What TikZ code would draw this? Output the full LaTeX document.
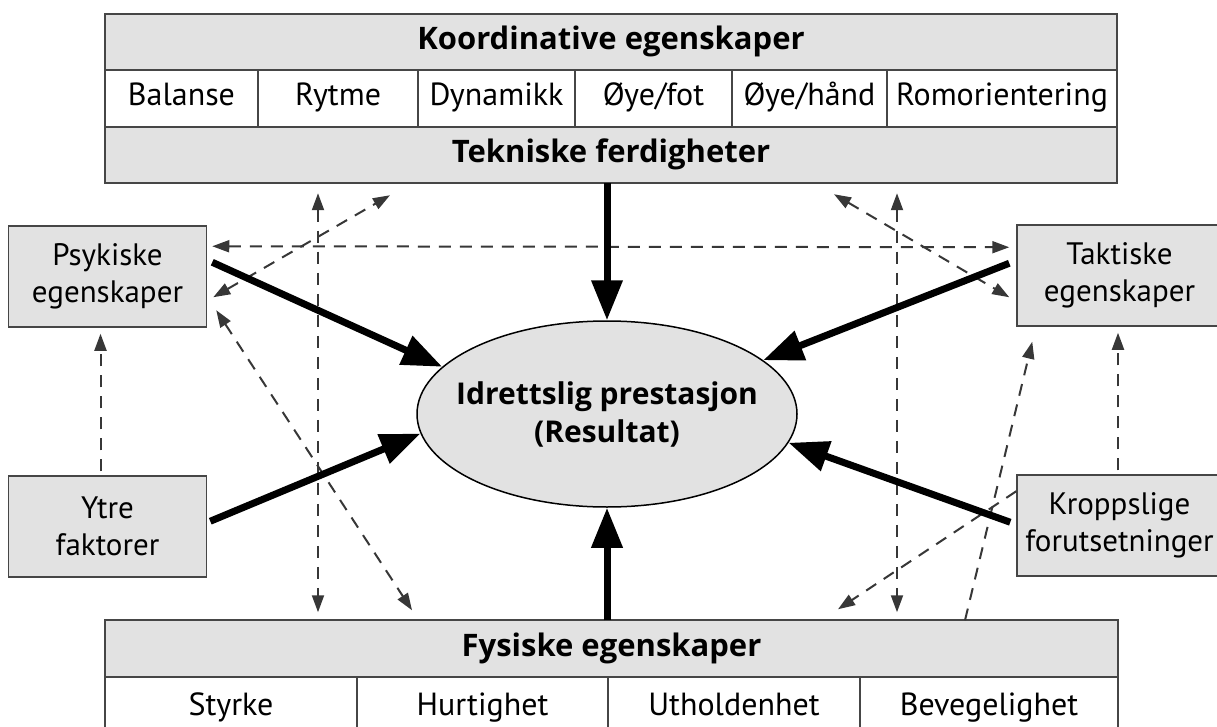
\documentclass[tikz,border=0pt]{standalone}
\usepackage{fontspec}
\setmainfont{PT Sans}
\newfontfamily\headfont{Open Sans}
\usepackage{tikz}
\usetikzlibrary{shapes,arrows.meta,positioning,calc}

\definecolor{boxfill}{RGB}{226,226,226}
\definecolor{boxline}{RGB}{70,70,70}
\definecolor{dashgray}{RGB}{55,55,55}

\tikzset{
  band/.style={draw=boxline, fill=boxfill, line width=2pt, inner sep=0pt, outer sep=0pt,
    minimum width=1012pt, minimum height=56.5pt, text height=23pt, text depth=7pt,
    font=\headfont\bfseries\fontsize{31}{34}\selectfont},
  cell/.style={draw=boxline, fill=white, line width=1.5pt, inner sep=0pt, outer sep=0pt,
    minimum height=56.5pt, text height=22pt, text depth=7pt,
    font=\fontsize{32}{34}\selectfont},
  sidebox/.style={draw=boxline, fill=boxfill, line width=1.5pt, inner sep=0pt,
    minimum width=198pt, minimum height=101pt, align=center,
    font=\fontsize{31}{37}\selectfont},
  thickarr/.style={line width=7pt, -{Triangle[length=40pt,width=30pt]}},
  dasharr/.style={draw=dashgray, line width=2pt, dash pattern=on 12pt off 9pt}
}

\begin{document}
\begin{tikzpicture}[x=1pt,y=-1pt,
    tip/.tip={Triangle[length=17pt,width=12pt]}]
  \useasboundingbox (0,0) rectangle (1217,727);

  \node[band] (koord) at (611,42) {Koordinative egenskaper};
  \node[cell, minimum width=153pt, anchor=north west] (bal) at (koord.south west) {Balanse};
  \node[cell, minimum width=160pt, right=0pt of bal] (ryt) {Rytme};
  \node[cell, minimum width=157pt, right=0pt of ryt] (dyn) {Dynamikk};
  \node[cell, minimum width=157pt, right=0pt of dyn] (fot) {Øye/fot};
  \node[cell, minimum width=155pt, right=0pt of fot] (hand) {Øye/hånd};
  \node[cell, minimum width=230pt, right=0pt of hand] (rom) {Romorientering};
  \node[band, anchor=north west] (tekn) at (bal.south west) {Tekniske ferdigheter};

  \node[band, minimum width=1013pt] (fys) at (611.5,648.5) {Fysiske egenskaper};
  \node[cell, minimum width=252pt, minimum height=62pt, anchor=north west] (sty) at (fys.south west) {Styrke};
  \node[cell, minimum width=251pt, minimum height=62pt, right=0pt of sty] (hur) {Hurtighet};
  \node[cell, minimum width=252pt, minimum height=62pt, right=0pt of hur] (uth) {Utholdenhet};
  \node[cell, minimum width=258pt, minimum height=62pt, right=0pt of uth] (bev) {Bevegelighet};

  \node[sidebox] (psyk) at (107.5,276.5) {Psykiske\\egenskaper};
  \node[sidebox, minimum width=205pt] (takt) at (1119.5,275.5) {Taktiske\\egenskaper};
  \node[sidebox] (ytre) at (107.5,526.5) {Ytre\\faktorer};
  \node[sidebox, minimum width=205pt] (kropp) at (1119.5,525.5) {Kroppslige\\forutsetninger};

  \node[ellipse, draw=black, fill=boxfill, line width=1.5pt, minimum width=380pt,
    minimum height=186pt, inner xsep=-40pt, inner ysep=0pt, align=center,
    font=\headfont\bfseries\fontsize{30}{38}\selectfont] (res) at (607,414)
    {Idrettslig prestasjon\\(Resultat)};

  \draw[dasharr, tip-tip] ($(tekn.south west)+(213,10)$) -- ($(fys.north west)+(213,-8)$);
  \draw[dasharr, tip-tip] ($(tekn.south west)+(792,10)$) -- ($(fys.north west)+(792,-8)$);
  \draw[dasharr, tip-tip] ($(psyk.north east)+(5,21)$) -- ($(takt.north west)+(-7,23)$);
  \draw[dasharr, tip-tip] ($(psyk.north east)+(6,72)$) -- ($(tekn.south west)+(285,12)$);
  \draw[dasharr, tip-tip] ($(tekn.south west)+(729,11)$) -- ($(takt.north west)+(-7,73)$);
  \draw[dasharr, tip-tip] ($(psyk.north east)+(9,85)$) -- ($(fys.north west)+(307,-10)$);
  \draw[dasharr, -tip] ($(kropp.north west)+(0,17)$) -- ($(fys.north west)+(733,-11)$);
  \draw[dasharr, -tip] ($(fys.north west)+(860,0)$) -- ($(takt.south west)+(16,15)$);
  \draw[dasharr, -tip] ($(ytre.north)+(-7,-4)$) -- ($(psyk.south)+(-7,6)$);
  \draw[dasharr, -tip] ($(kropp.north)+(-1.5,-4)$) -- ($(takt.south)+(-1.5,6)$);

  \draw[thickarr] (res.north |- tekn.south) -- (res.north);
  \draw[thickarr] (res.south |- fys.north) -- (res.south);
  \draw[thickarr] ($(psyk.north east)+(5,37)$) -- (res.164);
  \draw[thickarr] ($(takt.north west)+(-7,39)$) -- (res.19);
  \draw[thickarr] ($(ytre.north east)+(3,46)$) -- (res.186);
  \draw[thickarr] ($(kropp.north west)+(-6,48)$) -- (res.351);
\end{tikzpicture}
\end{document}
